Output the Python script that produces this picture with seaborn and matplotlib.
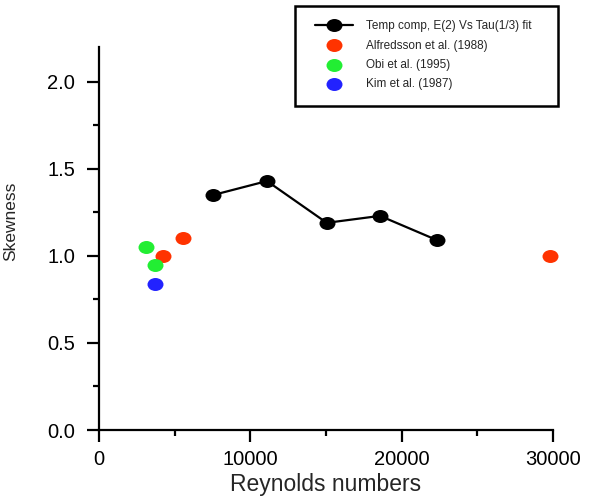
import numpy as np
import pandas as pd
import seaborn as sns
import matplotlib
matplotlib.use("Agg")
import matplotlib.pyplot as plt
from matplotlib.path import Path
from matplotlib.patches import Rectangle

# ---- data ----
temp_re = [7550, 11100, 15050, 18570, 22350]
temp_skew = [1.35, 1.43, 1.19, 1.23, 1.09]
alf_re = [4250, 5530, 29800]
alf_skew = [1.00, 1.10, 1.00]
obi_re = [3106, 3700]
obi_skew = [1.05, 0.95]
kim_re = [3700]
kim_skew = [0.84]

lbl_temp = "Temp comp, E(2) Vs Tau(1/3) fit"
lbl_alf = "Alfredsson et al. (1988)"
lbl_obi = "Obi et al. (1995)"
lbl_kim = "Kim et al. (1987)"

x_ticks = [0, 10000, 20000, 30000]
y_ticks = [0.0, 0.5, 1.0, 1.5, 2.0]

sns.set_style("white")
plt.rcParams["font.family"] = ["Liberation Sans", "DejaVu Sans"]

W, H = 613, 497
fig = plt.figure(figsize=(W / 100, H / 100), dpi=100)
ax = fig.add_axes([99 / W, 1 - 430 / H, (553 - 99) / W, (430 - 47) / H])

# elliptical marker (reference is horizontally stretched)
circ = Path.unit_circle()
ell = Path(circ.vertices * np.array([1.23, 1.0]), circ.codes)

ms = 11.5
df_t = pd.DataFrame({"re": temp_re, "sk": temp_skew})
sns.lineplot(data=df_t, x="re", y="sk", ax=ax, color="black", lw=1.6,
             marker=ell, markersize=ms, markeredgewidth=0, label=lbl_temp)
sns.scatterplot(x=alf_re, y=alf_skew, ax=ax, color="#ff3300", marker=ell,
                s=ms ** 2, linewidth=0, label=lbl_alf, clip_on=False)
sns.scatterplot(x=obi_re, y=obi_skew, ax=ax, color="#22ee33", marker=ell,
                s=ms ** 2, linewidth=0, label=lbl_obi)
sns.scatterplot(x=kim_re, y=kim_skew, ax=ax, color="#2222ff", marker=ell,
                s=ms ** 2, linewidth=0, label=lbl_kim)

ax.set_xlim(0, 30000)
ax.set_ylim(0, 2.2)
ax.set_xticks(x_ticks)
ax.set_xticklabels([str(v) for v in x_ticks])
ax.set_yticks(y_ticks)
ax.set_yticklabels([f"{v:.1f}" for v in y_ticks])
ax.set_xticks([5000, 15000, 25000], minor=True)
ax.set_yticks([0.25, 0.75, 1.25, 1.75], minor=True)

for s in ["top", "right"]:
    ax.spines[s].set_visible(False)
for s in ["left", "bottom"]:
    ax.spines[s].set_linewidth(1.6)
    ax.spines[s].set_color("black")

ax.tick_params(axis="both", which="both", bottom=True, left=True,
               top=False, right=False)
ax.tick_params(axis="both", which="major", direction="out", length=8.6,
               width=1.6, color="black", labelsize=14.5, labelcolor="black")
ax.tick_params(axis="both", which="minor", direction="out", length=4.3,
               width=1.6, color="black")
ax.tick_params(axis="y", which="major", pad=8.5)
ax.tick_params(axis="x", which="major", pad=6)

ax.set_xlabel("Reynolds numbers", fontsize=16.5, labelpad=2.5)
ax.set_ylabel("Skewness", fontsize=12.5)
ax.yaxis.set_label_coords(-0.178, 0.546)

h, l = ax.get_legend_handles_labels()
leg = ax.legend(h, l, loc="upper left", bbox_to_anchor=(315 / W, 1 - 20.5 / H),
                bbox_transform=fig.transFigure, frameon=False, fontsize=8.5,
                handlelength=3.2, handletextpad=1.1, labelspacing=0.6,
                borderpad=0, borderaxespad=0, scatterpoints=1)

fig.patches.append(Rectangle((295 / W, 1 - 106 / H), (558 - 295) / W, 100 / H,
                             transform=fig.transFigure, fill=False,
                             edgecolor="black", linewidth=1.8))

fig.savefig("out.png", dpi=100)
